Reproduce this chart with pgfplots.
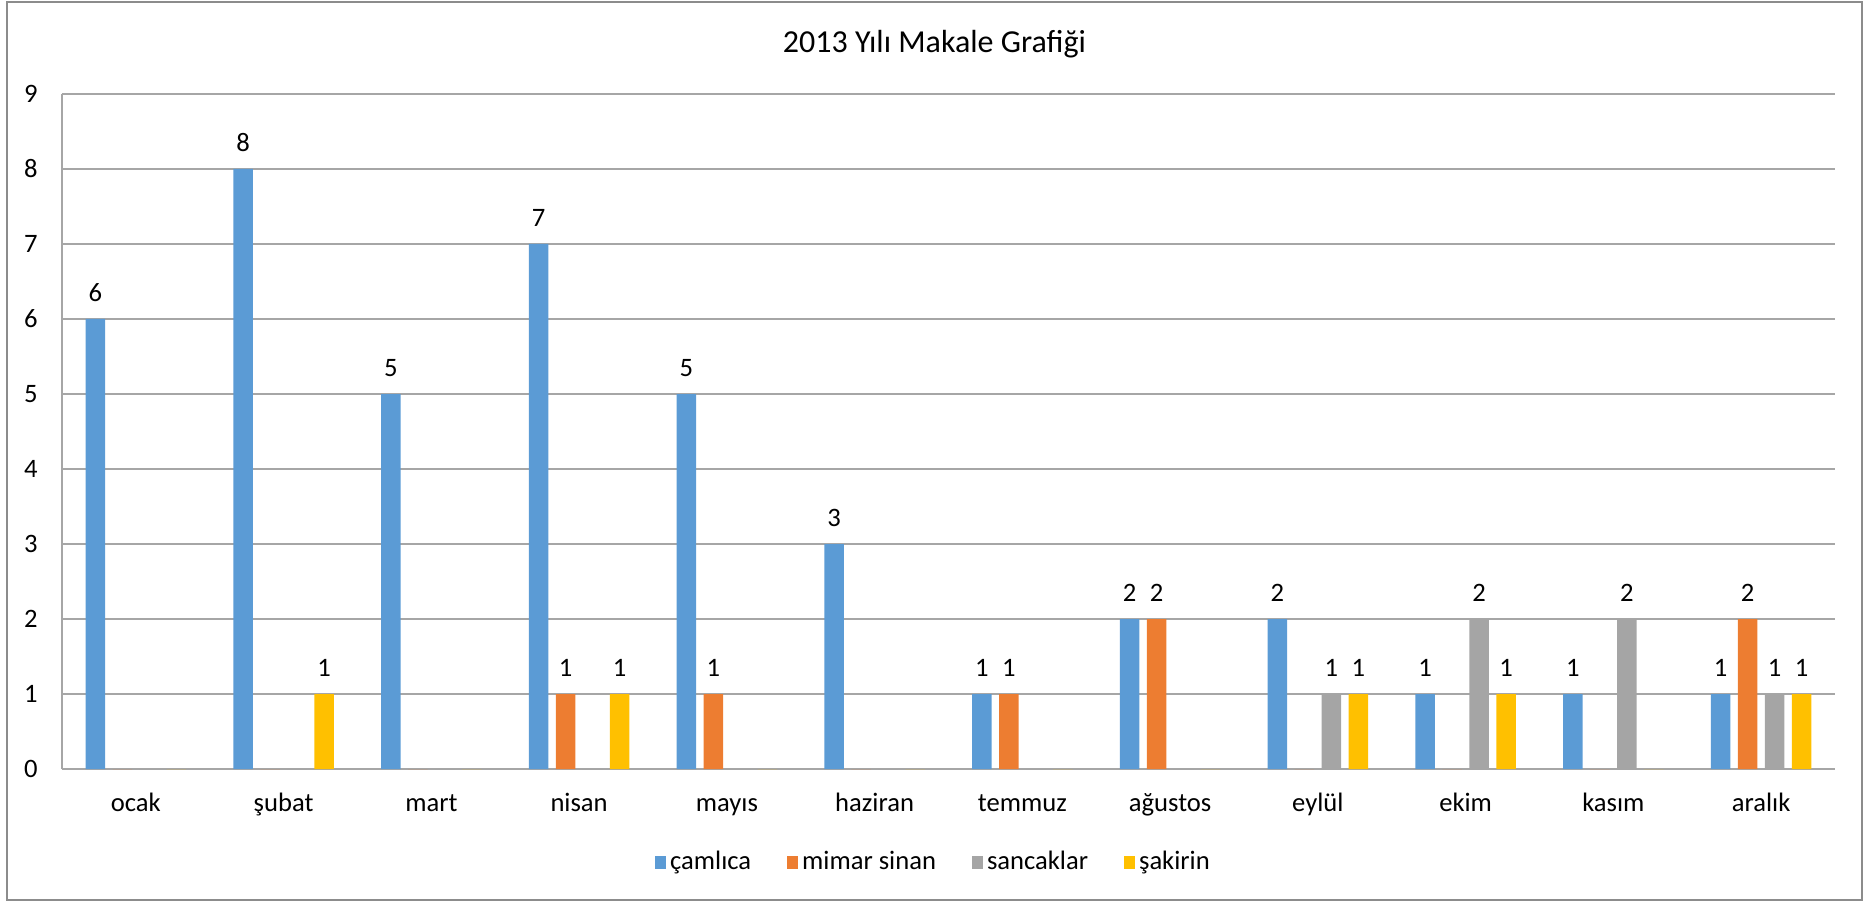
\documentclass[border=0pt]{standalone}
\usepackage{fontspec}
\setmainfont{Carlito}
\usepackage{pgfplots}
\pgfplotsset{compat=1.18}
\definecolor{cBlue}{HTML}{5B9BD5}
\definecolor{cOrange}{HTML}{ED7D31}
\definecolor{cGray}{HTML}{A5A5A5}
\definecolor{cGold}{HTML}{FFC000}
\definecolor{gridGray}{HTML}{A6A6A6}
\definecolor{frameGray}{HTML}{8C8C8C}
\pgfplotsset{
  LI/.style={legend image code/.code={\fill[##1] (0pt,-3.25pt) rectangle (5.5pt,3.25pt);}},
}
\begin{document}
\begin{tikzpicture}
\fontsize{13.3pt}{16pt}\selectfont
\path (-31pt,-66pt) rectangle (901.5pt,384.5pt);
\draw[frameGray, line width=0.75pt] (-27.5pt,-65.5pt) rectangle (900pt,383.5pt);
\begin{axis}[
  at={(0,0)}, anchor=south west,
  scale only axis, width=886.5pt, height=337.5pt,
  ymin=0, ymax=9, ytick={0,1,...,9},
  xmin=-0.5, xmax=11.5, xtick={0,1,...,11},
  xticklabels={ocak,şubat,mart,nisan,mayıs,haziran,temmuz,ağustos,eylül,ekim,kasım,aralık},
  axis x line*=bottom, axis y line*=left,
  axis line style={-, gridGray, line width=0.75pt},
  ymajorgrids, grid style={gridGray, line width=0.75pt},
  major tick length=0pt,
  /pgf/number format/assume math mode=true,
  tick label style={font=\fontsize{13.3pt}{16pt}\selectfont, text=black},
  yticklabel style={anchor=east, inner sep=0pt, xshift=-12pt},
  xticklabel style={anchor=base, inner sep=0pt, yshift=-21pt},
  title={2013 Yılı Makale Grafiği},
  title style={at={(0.4921,1)}, anchor=center, yshift=19pt, font=\fontsize{16pt}{19pt}\selectfont},
  ybar, bar width=9.75pt,
  nodes near coords={\pgfmathfloatifflags{\pgfplotspointmeta}{0}{}{\pgfmathprintnumber{\pgfplotspointmeta}}},
  every node near coord/.append style={font=\fontsize{13.3pt}{16pt}\selectfont, anchor=south, inner sep=0pt, yshift=8.5pt, text=black},
  legend style={at={(0.4921,-0.1378)}, anchor=center, draw=none, fill=none,
    legend columns=4, font=\fontsize{13.3pt}{16pt}\selectfont,
    /tikz/every even column/.append style={column sep=16pt}},
]
\addplot[fill=cBlue, draw=none, bar shift=-20.25pt, LI] coordinates {(0,6)(1,8)(2,5)(3,7)(4,5)(5,3)(6,1)(7,2)(8,2)(9,1)(10,1)(11,1)};
\addplot[fill=cOrange, draw=none, bar shift=-6.75pt, LI] coordinates {(0,0)(1,0)(2,0)(3,1)(4,1)(5,0)(6,1)(7,2)(8,0)(9,0)(10,0)(11,2)};
\addplot[fill=cGray, draw=none, bar shift=6.75pt, LI] coordinates {(0,0)(1,0)(2,0)(3,0)(4,0)(5,0)(6,0)(7,0)(8,1)(9,2)(10,2)(11,1)};
\addplot[fill=cGold, draw=none, bar shift=20.25pt, LI] coordinates {(0,0)(1,1)(2,0)(3,1)(4,0)(5,0)(6,0)(7,0)(8,1)(9,1)(10,0)(11,1)};
\legend{çamlıca, mimar sinan, sancaklar, şakirin}
\end{axis}
\end{tikzpicture}
\end{document}
